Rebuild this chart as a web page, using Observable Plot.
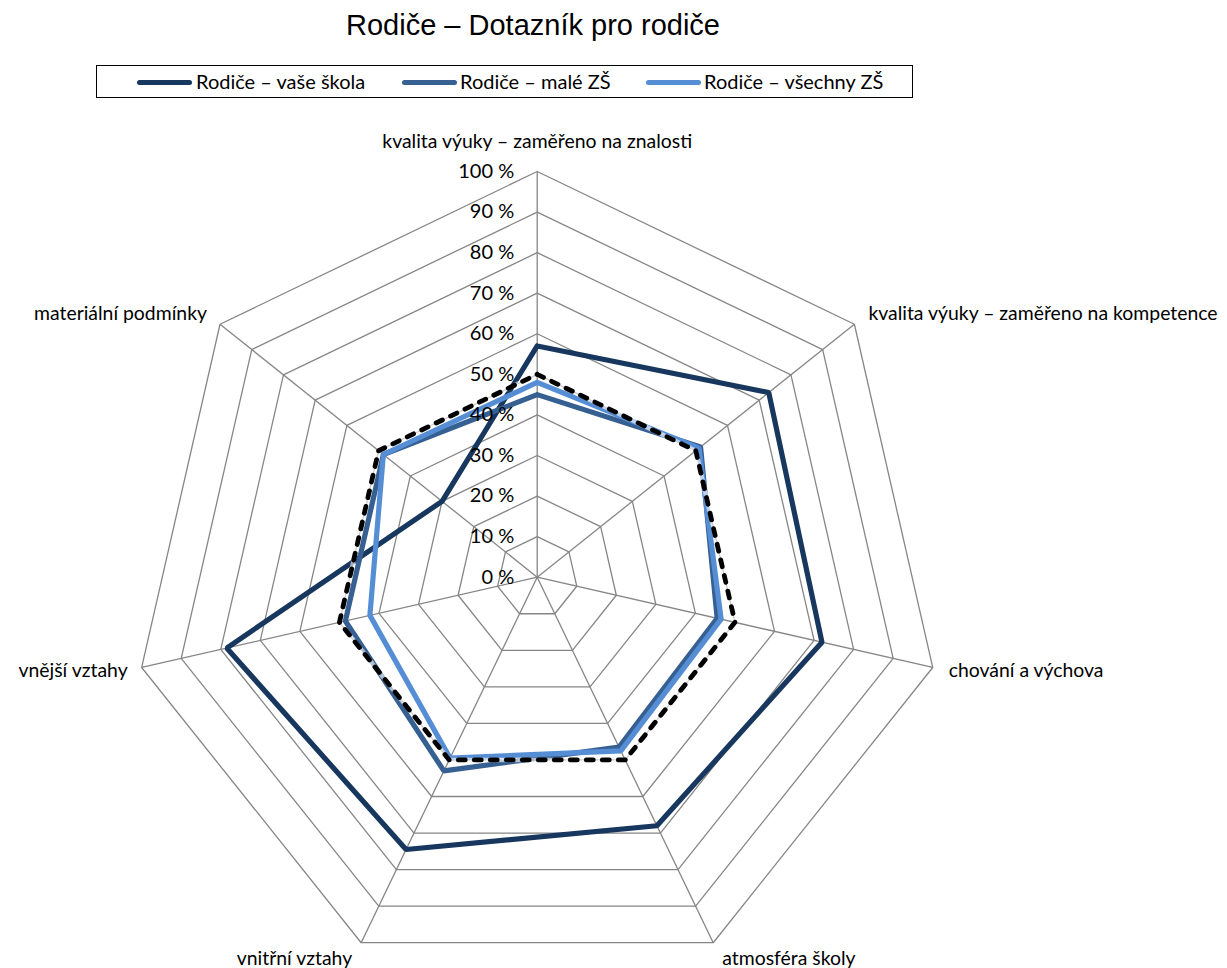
<!DOCTYPE html>
<html>
<head>
<meta charset="utf-8">
<script src="https://cdn.jsdelivr.net/npm/d3@7"></script>
<script src="https://cdn.jsdelivr.net/npm/@observablehq/plot@0.6"></script>
<style>
  html, body { margin: 0; padding: 0; background: #fff; }
  #wrap { position: relative; width: 1227px; height: 968px; overflow: hidden; background: #fff; }
  #title { position: absolute; left: 0; width: 1066px; top: 11px; text-align: center;
           font-family: "Liberation Sans", Arial, sans-serif; font-size: 29px; line-height: 1; color: #000; }
  #legend { position: absolute; left: 96px; top: 65px; width: 817px; height: 33px; box-sizing: border-box;
            border: 1px solid #000; font-family: Lato, "Open Sans", sans-serif; font-size: 20px; color: #000; }
  .sw { position: absolute; top: 14px; height: 5px; border-radius: 3px; }
  .lt { position: absolute; top: 2px; line-height: 26px; white-space: nowrap; }
  #chart { position: absolute; left: 0; top: 105px; }
</style>
</head>
<body>
<div id="wrap">
  <div id="title"></div>
  <div id="legend"></div>
  <div id="chart"></div>
</div>
<script>
// ---- data ----
const titleText = "Rodiče – Dotazník pro rodiče";
const axes = [
  "kvalita výuky – zaměřeno na znalosti",
  "kvalita výuky – zaměřeno na kompetence",
  "chování a výchova",
  "atmosféra školy",
  "vnitřní vztahy",
  "vnější vztahy",
  "materiální podmínky"
];
const seriesNames = ["Rodiče – vaše škola", "Rodiče – malé ZŠ", "Rodiče – všechny ZŠ"];
const vaseSkola = [57, 73, 72, 68, 74.5, 78.5, 30];
const maleZS    = [45, 51.5, 45.5, 46.5, 53, 48.5, 48.5];
const vsechnyZS = [48, 51, 46.5, 47.5, 49.5, 42.3, 48.5];
const referenceLine = [50, 50, 50, 50, 50, 50, 50];
const ticks = [0, 10, 20, 30, 40, 50, 60, 70, 80, 90, 100];
const tickLabels = ["0 %", "10 %", "20 %", "30 %", "40 %", "50 %", "60 %", "70 %", "80 %", "90 %", "100 %"];

// ---- styles ----
const colors = ["#17375E", "#376092", "#558ED5"];
const gridColor = "#868686";
const font = "Lato, 'Open Sans', sans-serif";

// ---- title & legend ----
document.getElementById("title").textContent = titleText;
const legend = document.getElementById("legend");
const legendPos = [[40, 99], [305, 363], [549, 607]];
seriesNames.forEach((name, i) => {
  const sw = document.createElement("div");
  sw.className = "sw";
  sw.style.left = legendPos[i][0] + "px";
  sw.style.width = "55px";
  sw.style.background = colors[i];
  legend.appendChild(sw);
  const t = document.createElement("div");
  t.className = "lt";
  t.style.left = legendPos[i][1] + "px";
  t.textContent = name;
  legend.appendChild(t);
});

// ---- geometry ----
const n = axes.length;
const ang = i => (2 * Math.PI * (i % n)) / n;
const px = (v, i) => v * Math.sin(ang(i));
const py = (v, i) => v * Math.cos(ang(i));

const W = 1227, H = 863;
const cx = 536.7, cy = 471.7, k = 4.057;

function closedRows(values, key) {
  const rows = values.map((v, i) => ({key, i, v}));
  rows.push({key, i: 0, v: values[0]});
  return rows;
}

const ringRows = ticks.filter(t => t > 0).flatMap(t => closedRows(axes.map(() => t), t));
const spokeRows = axes.map((a, i) => ({i, v: 100}));
const seriesData = [vaseSkola, maleZS, vsechnyZS];

const marks = [];
marks.push(Plot.line(ringRows, {x: d => px(d.v, d.i), y: d => py(d.v, d.i), z: "key",
  stroke: gridColor, strokeWidth: 1.3}));
marks.push(Plot.link(spokeRows, {x1: () => 0, y1: () => 0, x2: d => px(d.v, d.i), y2: d => py(d.v, d.i),
  stroke: gridColor, strokeWidth: 1.3}));

seriesData.forEach((vals, s) => {
  marks.push(Plot.line(closedRows(vals, s), {x: d => px(d.v, d.i), y: d => py(d.v, d.i),
    stroke: colors[s], strokeWidth: 5.2, strokeLinejoin: "miter"}));
});
marks.push(Plot.line(closedRows(referenceLine, "ref"), {x: d => px(d.v, d.i), y: d => py(d.v, d.i),
  stroke: "#ffffff", strokeWidth: 4.5, strokeOpacity: 0.6}));
marks.push(Plot.line(closedRows(referenceLine, "ref"), {x: d => px(d.v, d.i), y: d => py(d.v, d.i),
  stroke: "#000", strokeWidth: 4.8, strokeDasharray: "7,9", strokeLinecap: "round"}));

// tick labels
marks.push(Plot.text(ticks, {x: () => 0, y: t => t, text: (t, j) => tickLabels[j],
  textAnchor: "end", dx: -23, fontSize: 20, fontFamily: font, fill: "#000"}));

// axis labels
const labelOff = [
  {dx: 0, dy: -30, a: "middle"},
  {dx: 14, dy: -10, a: "start"},
  {dx: 16, dy: 3, a: "start"},
  {dx: 9, dy: 16, a: "start"},
  {dx: -9, dy: 16, a: "end"},
  {dx: -14, dy: 3, a: "end"},
  {dx: -13, dy: -10, a: "end"}
];
axes.forEach((label, i) => {
  marks.push(Plot.text([{i, label}], {x: d => px(100, d.i), y: d => py(100, d.i), text: "label",
    textAnchor: labelOff[i].a, dx: labelOff[i].dx, dy: labelOff[i].dy,
    fontSize: 19.4, fontFamily: font, fill: "#000"}));
});

const chart = Plot.plot({
  width: W, height: H,
  margin: 0,
  style: {background: "transparent", fontFamily: font, overflow: "visible"},
  x: {type: "linear", domain: [-cx / k, (W - cx) / k], range: [0, W], axis: null},
  y: {type: "linear", domain: [-(H - cy) / k, cy / k], range: [H, 0], axis: null},
  marks
});
document.getElementById("chart").appendChild(chart);
</script>
</body>
</html>
